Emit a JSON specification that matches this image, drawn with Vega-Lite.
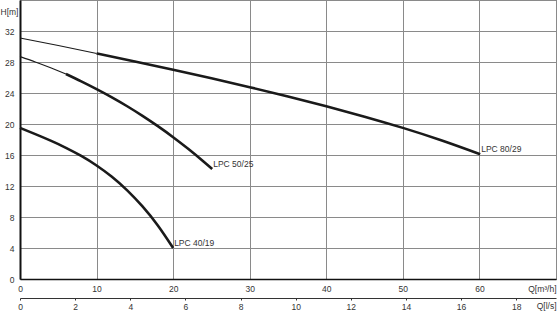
{
  "$schema": "https://vega.github.io/schema/vega-lite/v6.json",
  "width": 536,
  "height": 279,
  "autosize": {"type": "none"},
  "padding": {"left": 20, "top": 0, "right": 4, "bottom": 33},
  "config": {
    "view": {"stroke": "#444", "strokeWidth": 1},
    "font": "Liberation Sans",
    "axis": {"labelFont": "Liberation Sans", "titleFont": "Liberation Sans", "labelFontSize": 8.5, "titleFontSize": 8.5, "labelColor": "#333", "titleColor": "#333", "titleFontWeight": "normal"}
  },
  "datasets": {
    "curves": [
      {"pump": "LPC 80/29", "seg": "80a", "range": "outside", "q": 0, "h": 31.1},
      {"pump": "LPC 80/29", "seg": "80a", "range": "outside", "q": 5, "h": 30.12},
      {"pump": "LPC 80/29", "seg": "80a", "range": "outside", "q": 10, "h": 29.1},
      {"pump": "LPC 80/29", "seg": "80b", "range": "operating", "q": 10, "h": 29.1},
      {"pump": "LPC 80/29", "seg": "80b", "range": "operating", "q": 15, "h": 28.07},
      {"pump": "LPC 80/29", "seg": "80b", "range": "operating", "q": 20, "h": 27.0},
      {"pump": "LPC 80/29", "seg": "80b", "range": "operating", "q": 25, "h": 25.9},
      {"pump": "LPC 80/29", "seg": "80b", "range": "operating", "q": 30, "h": 24.75},
      {"pump": "LPC 80/29", "seg": "80b", "range": "operating", "q": 35, "h": 23.56},
      {"pump": "LPC 80/29", "seg": "80b", "range": "operating", "q": 40, "h": 22.3},
      {"pump": "LPC 80/29", "seg": "80b", "range": "operating", "q": 45, "h": 20.95},
      {"pump": "LPC 80/29", "seg": "80b", "range": "operating", "q": 50, "h": 19.5},
      {"pump": "LPC 80/29", "seg": "80b", "range": "operating", "q": 55, "h": 17.9},
      {"pump": "LPC 80/29", "seg": "80b", "range": "operating", "q": 60.1, "h": 16.1},
      {"pump": "LPC 50/25", "seg": "50a", "range": "outside", "q": 0, "h": 28.7},
      {"pump": "LPC 50/25", "seg": "50a", "range": "outside", "q": 2, "h": 28.0},
      {"pump": "LPC 50/25", "seg": "50a", "range": "outside", "q": 4, "h": 27.25},
      {"pump": "LPC 50/25", "seg": "50a", "range": "outside", "q": 6, "h": 26.45},
      {"pump": "LPC 50/25", "seg": "50b", "range": "operating", "q": 6, "h": 26.45},
      {"pump": "LPC 50/25", "seg": "50b", "range": "operating", "q": 8, "h": 25.5},
      {"pump": "LPC 50/25", "seg": "50b", "range": "operating", "q": 10, "h": 24.5},
      {"pump": "LPC 50/25", "seg": "50b", "range": "operating", "q": 12, "h": 23.44},
      {"pump": "LPC 50/25", "seg": "50b", "range": "operating", "q": 14, "h": 22.29},
      {"pump": "LPC 50/25", "seg": "50b", "range": "operating", "q": 16, "h": 21.05},
      {"pump": "LPC 50/25", "seg": "50b", "range": "operating", "q": 18, "h": 19.72},
      {"pump": "LPC 50/25", "seg": "50b", "range": "operating", "q": 20, "h": 18.3},
      {"pump": "LPC 50/25", "seg": "50b", "range": "operating", "q": 22, "h": 16.77},
      {"pump": "LPC 50/25", "seg": "50b", "range": "operating", "q": 24, "h": 15.14},
      {"pump": "LPC 50/25", "seg": "50b", "range": "operating", "q": 25.1, "h": 14.2},
      {"pump": "LPC 40/19", "seg": "40b", "range": "operating", "q": 0, "h": 19.5},
      {"pump": "LPC 40/19", "seg": "40b", "range": "operating", "q": 2, "h": 18.69},
      {"pump": "LPC 40/19", "seg": "40b", "range": "operating", "q": 4, "h": 17.85},
      {"pump": "LPC 40/19", "seg": "40b", "range": "operating", "q": 6, "h": 16.93},
      {"pump": "LPC 40/19", "seg": "40b", "range": "operating", "q": 8, "h": 15.88},
      {"pump": "LPC 40/19", "seg": "40b", "range": "operating", "q": 10, "h": 14.65},
      {"pump": "LPC 40/19", "seg": "40b", "range": "operating", "q": 12, "h": 13.19},
      {"pump": "LPC 40/19", "seg": "40b", "range": "operating", "q": 14, "h": 11.44},
      {"pump": "LPC 40/19", "seg": "40b", "range": "operating", "q": 16, "h": 9.36},
      {"pump": "LPC 40/19", "seg": "40b", "range": "operating", "q": 18, "h": 6.9},
      {"pump": "LPC 40/19", "seg": "40b", "range": "operating", "q": 20, "h": 4.0}
    ],
    "labels": [
      {"name": "LPC 80/29", "q": 60.1, "h": 16.1},
      {"name": "LPC 50/25", "q": 25.1, "h": 14.2},
      {"name": "LPC 40/19", "q": 20, "h": 4.0}
    ],
    "lps": [
      {"ls": 0}, {"ls": 2}, {"ls": 4}, {"ls": 6}, {"ls": 8}, {"ls": 10}, {"ls": 12}, {"ls": 14}, {"ls": 16}, {"ls": 18}
    ]
  },
  "layer": [
    {
      "encoding": {
        "x": {
          "field": "q", "type": "quantitative",
          "scale": {"domain": [0, 70], "nice": false, "zero": false},
          "axis": {
            "values": [0, 10, 20, 30, 40, 50, 60, 70],
            "labelExpr": "datum.value == 70 ? '' : datum.label",
            "grid": true, "gridColor": "#8a8a8a", "gridWidth": 1,
            "domainColor": "#111", "domainWidth": 1.5,
            "ticks": false, "labelPadding": 5, "labelFlush": false, "labelOverlap": false,
            "title": "Q[m³/h]", "titleX": 536, "titleY": 9, "titleAlign": "right", "titleBaseline": "middle"
          }
        },
        "y": {
          "field": "h", "type": "quantitative",
          "scale": {"domain": [0, 36], "nice": false},
          "axis": {
            "values": [0, 4, 8, 12, 16, 20, 24, 28, 32, 36],
            "labelExpr": "datum.value == 36 ? '' : datum.label",
            "grid": true, "gridColor": "#8a8a8a", "gridWidth": 1,
            "domainColor": "#111", "domainWidth": 2,
            "ticks": false, "labelPadding": 6, "labelFlush": false, "labelOverlap": false,
            "title": "H[m]", "titleAngle": 0, "titleX": -20, "titleY": 11, "titleAlign": "left", "titleBaseline": "middle"
          }
        }
      },
      "layer": [
        {
          "data": {"name": "curves"},
          "mark": {"type": "line", "interpolate": "natural", "color": "#1a1a1a", "strokeCap": "butt"},
          "encoding": {
            "detail": {"field": "seg"},
            "strokeWidth": {"field": "range", "type": "nominal", "scale": {"domain": ["outside", "operating"], "range": [1.1, 2.6]}, "legend": null}
          }
        },
        {
          "data": {"name": "labels"},
          "mark": {"type": "text", "align": "left", "baseline": "bottom", "dx": 1, "dy": 0, "fontSize": 8.5, "color": "#333", "font": "Liberation Sans"},
          "encoding": {
            "text": {"field": "name"}
          }
        }
      ]
    },
    {
      "data": {"name": "lps"},
      "mark": {"type": "tick", "opacity": 0},
      "encoding": {
        "x": {
          "field": "ls", "type": "quantitative",
          "scale": {"domain": [0, 19.444], "nice": false, "zero": false},
          "axis": {
            "orient": "bottom", "offset": 19,
            "values": [0, 2, 4, 6, 8, 10, 12, 14, 16, 18],
            "grid": false, "domainColor": "#333", "domainWidth": 1,
            "ticks": true, "tickSize": 2, "tickColor": "#333",
            "labelPadding": 2, "labelFlush": false, "labelOverlap": false,
            "title": "Q[l/s]", "titleX": 536, "titleY": 7, "titleAlign": "right", "titleBaseline": "middle"
          }
        }
      }
    }
  ],
  "resolve": {"scale": {"x": "independent"}, "axis": {"x": "independent"}}
}
